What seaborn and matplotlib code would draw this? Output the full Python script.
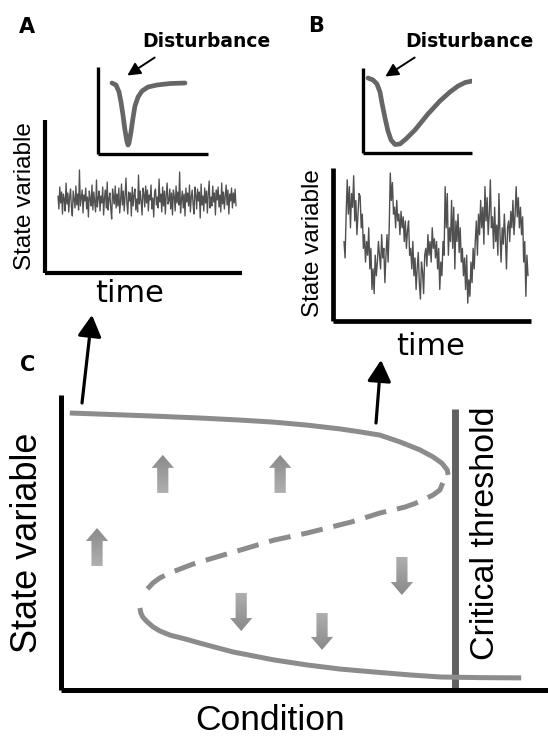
import numpy as np
import pandas as pd
import matplotlib
matplotlib.use("Agg")
import matplotlib.pyplot as plt
import seaborn as sns
from matplotlib.patches import FancyArrow, FancyArrowPatch

# ---------------- data ----------------
# Panel A: fast-recovering system, white-ish noise around the equilibrium (deviation units)
A_noise = [
    4, -9, 13, -3, 8, -14, 6, 1, -11, 17, -4, 7, -12, 3, 11, -7, -16, 9, 0, -8,
    14, -5, 6, -10, 30, -6, 2, 10, -13, 5, -1, 12, -9, 3, -17, 9, 1, -6, 15, -10,
    8, -2, -12, 20, -7, 2, 9, -11, 4, -3, 13, -15, 2, 10, -8, 18, -10, 1, 7, -9,
    -19, 11, 3, -4, 14, -8, 6, -6, 12, -13, 0, 16, -5, 9, -11, 4, 22, -3, -14, 8,
    -1, 7, -16, 13, -6, 5, 11, -10, 1, -12, 25, -4, 9, -2, -15, 12, 6, -7, 14, -3,
    10, -11, 5, 0, 15, -9, 2, -17, 8, 11, -5, 3, -8, 21, -2, 6, -12, 13, -6, 9,
    -14, 5, 17, -4, -1, 11, -9, 7, -15, 10, 4, -11, 14, -3, 8, -5, 28, -13, 0, 9,
    -8, 6, -16, 12, -2, 7, -6, 15, -12, 3, 10, -4, -14, 13, 5, -9, 11, -1, 8, -18,
    16, -5, 4, -11, 12, -3, 9, -13, 6, 19, -8, 3, -6, 14, -2, 7, -15, 10, 0, 13,
    -7, 5, -12, 17, -4, 8, -9, 4, 15, -5, 10, -14, 6, -1, 12, -8, 7, -3, 11, -6,
]

# Panel B: slowly recovering system, red noise (state 0..10)
B_noise = [
    5.0, 3.8, 7.0, 9.5, 7.0, 9.0, 6.0, 8.5, 7.5, 9.8, 6.5, 8.0, 5.5, 7.0, 8.5, 8.3,
    6.0, 7.0, 4.5, 5.5, 3.5, 5.0, 4.0, 6.0, 3.0, 4.5,
    1.5, 3.0, 1.2, 4.0, 2.5,
    3.5, 5.0, 4.0, 3.0, 5.5, 3.8, 4.5, 2.0, 4.0, 5.5, 3.5, 6.0,
    10.0, 8.0, 9.3, 7.0,
    7.5, 6.0, 8.0, 6.5, 7.0, 5.5, 7.2, 6.0, 6.8, 5.0, 6.5, 4.5, 5.8, 6.5, 4.0,
    4.5, 3.0, 5.0, 2.5, 3.8, 1.5, 3.0, 4.2, 2.0, 0.8, 3.5, 2.8, 1.2, 4.0,
    4.5, 3.2, 5.5, 4.0, 5.0, 3.5, 6.0, 4.5, 5.2, 3.8,
    5.0, 3.0, 4.5, 1.5, 3.5, 2.5, 5.0, 4.0,
    9.0, 6.0, 8.5, 4.0,
    6.0, 5.0, 8.0, 4.5, 7.5, 3.0, 6.5, 5.0, 7.0, 4.2, 6.0, 3.5,
    4.5, 2.5, 3.8, 1.5, 4.0, 0.5, 2.2, 1.0, 3.5, 2.0, 4.5, 3.0,
    5.0, 6.5, 4.0, 7.0, 5.5, 8.0, 6.0, 7.5, 4.8, 9.0, 6.5, 8.2, 5.5, 7.0, 9.5, 6.0,
    6.8, 4.5, 7.5, 5.0, 6.2, 4.0, 8.5, 5.5, 3.5, 6.0, 4.8, 7.0, 5.2, 3.0, 6.0,
    6.5, 5.0, 7.2, 6.0, 8.0, 5.5, 7.0, 9.0, 6.8, 8.2, 6.0, 7.5,
    5.5, 6.8, 3.5, 5.0, 1.0, 4.0, 2.5,
]

# Inset disturbance responses (time 0..10, state 0..10)
A_dist_t = [1.27, 1.64, 1.91, 2.09, 2.27, 2.45, 2.64, 2.73, 2.82, 3.00, 3.18, 3.36, 3.64, 4.00, 4.55, 5.36, 6.55, 7.91]
A_dist_y = [8.16, 7.93, 7.13, 5.98, 4.48, 2.76, 1.38, 1.03, 1.26, 2.53, 4.14, 5.52, 6.55, 7.24, 7.70, 7.93, 8.10, 8.16]
B_dist_t = [0.46, 0.92, 1.28, 1.56, 1.74, 2.02, 2.29, 2.57, 2.94, 3.39, 3.94, 4.77, 5.96, 7.06, 7.98, 8.72, 9.36, 10.0]
B_dist_y = [8.82, 8.59, 8.12, 7.18, 5.88, 4.12, 2.59, 1.53, 1.00, 1.06, 1.65, 2.71, 4.59, 6.12, 7.18, 7.88, 8.29, 8.47]

# Panel C: fold bifurcation (condition 0..10, state 0..10)
upper_cond = [0.18, 1.01, 1.83, 2.85, 3.68, 4.37, 5.05, 5.73, 6.14, 6.55, 6.96, 7.37, 7.64, 7.82, 7.93, 7.95]
upper_state = [9.39, 9.34, 9.29, 9.22, 9.15, 9.08, 8.98, 8.85, 8.75, 8.64, 8.41, 8.14, 7.90, 7.69, 7.46, 7.29]
middle_cond = [7.84, 7.78, 7.64, 7.43, 7.25, 7.06, 6.55, 5.95, 5.05, 4.37, 3.82, 3.26, 2.71, 2.24, 2.03, 1.89, 1.77, 1.66]
middle_state = [7.02, 6.78, 6.61, 6.44, 6.31, 6.20, 6.00, 5.69, 5.32, 5.08, 4.81, 4.54, 4.27, 3.97, 3.80, 3.63, 3.42, 3.22]
lower_cond = [1.62, 1.64, 1.68, 1.77, 1.89, 2.03, 2.24, 2.55, 2.85, 3.53, 4.37, 5.05, 5.73, 6.43, 7.17, 7.80, 8.60, 9.45]
lower_state = [2.78, 2.61, 2.47, 2.31, 2.14, 2.00, 1.86, 1.73, 1.59, 1.29, 1.02, 0.85, 0.71, 0.61, 0.51, 0.44, 0.42, 0.41]
threshold_cond = 8.09
threshold_top = 9.53

up_arrow_cond = [2.09, 4.50, 0.74]
up_arrow_from = [6.68, 6.68, 4.20]
up_arrow_to = [7.97, 7.97, 5.49]
down_arrow_cond = [3.70, 5.36, 7.00]
down_arrow_from = [3.29, 2.61, 4.51]
down_arrow_to = [2.00, 1.36, 3.22]

# ---------------- figure ----------------
sns.set_style("white")
plt.rcParams['font.family'] = ['Liberation Sans', 'DejaVu Sans']
plt.rcParams['text.color'] = 'black'

W, H = 548, 736
fig = plt.figure(figsize=(W / 100, H / 100), dpi=100)
fig.patch.set_facecolor("white")


def px_axes(l, t, r, b):
    ax = fig.add_axes([l / W, 1 - b / H, (r - l) / W, (b - t) / H])
    ax.patch.set_alpha(0)
    return ax


def style(ax, lw):
    for s in ["top", "right"]:
        ax.spines[s].set_visible(False)
    for s in ["left", "bottom"]:
        ax.spines[s].set_linewidth(lw)
        ax.spines[s].set_color("black")
        ax.spines[s].set_capstyle("butt")
    ax.set_xticks([])
    ax.set_yticks([])
    ax.set_xlabel("")
    ax.set_ylabel("")


def fit_lim(d0, d1, p0, p1, a0, a1):
    # data d0..d1 should land on pixels p0..p1 of an axis spanning pixels a0..a1
    s = (d1 - d0) / (p1 - p0)
    return d0 - (p0 - a0) * s, d1 + (a1 - p1) * s


# background canvas in pixel units for labels and connecting arrows
bg = fig.add_axes([0, 0, 1, 1])
bg.set_xlim(0, W)
bg.set_ylim(H, 0)
bg.axis("off")

# ---- Panel A main ----
axA = px_axes(45, 120, 242, 272.5)
tA = np.arange(len(A_noise))
sns.lineplot(x=tA, y=A_noise, ax=axA, color="#505050", linewidth=0.95,
             estimator=None, sort=False)
axA.set_xlim(*fit_lim(0, len(A_noise) - 1, 58, 236, 45, 242))
axA.set_ylim(-72.5, 80)
style(axA, 3.0)

# ---- Panel A inset ----
axAi = px_axes(98, 67, 208, 154)
sns.lineplot(x=A_dist_t, y=A_dist_y, ax=axAi, color="#666666", linewidth=3.4,
             estimator=None, sort=False, solid_capstyle="round", solid_joinstyle="round")
axAi.set_xlim(0, 10)
axAi.set_ylim(0, 10)
style(axAi, 2.4)

# ---- Panel B main ----
axB = px_axes(333, 168, 531, 320.5)
tB = np.arange(len(B_noise))
sns.lineplot(x=tB, y=B_noise, ax=axB, color="#505050", linewidth=1.0,
             estimator=None, sort=False)
axB.set_xlim(*fit_lim(0, len(B_noise) - 1, 344, 528, 333, 531))
axB.set_ylim(*fit_lim(0, 10, 310, 173, 320.5, 168))
style(axB, 3.4)

# ---- Panel B inset ----
axBi = px_axes(363, 68, 472, 153)
sns.lineplot(x=B_dist_t, y=B_dist_y, ax=axBi, color="#666666", linewidth=3.4,
             estimator=None, sort=False, solid_capstyle="round", solid_joinstyle="round")
axBi.set_xlim(0, 10)
axBi.set_ylim(0, 10)
style(axBi, 2.4)

# ---- Panel C ----
axC = px_axes(61, 395, 548, 690)
curve_col = "#8c8c8c"
sns.lineplot(x=upper_cond, y=upper_state, ax=axC, color=curve_col, linewidth=3.6,
             estimator=None, sort=False, solid_capstyle="butt", solid_joinstyle="round")
sns.lineplot(x=middle_cond, y=middle_state, ax=axC, color=curve_col, linewidth=3.6,
             estimator=None, sort=False, linestyle=(0, (4.4, 2.2)),
             dash_capstyle="butt", dash_joinstyle="round")
sns.lineplot(x=lower_cond, y=lower_state, ax=axC, color=curve_col, linewidth=3.6,
             estimator=None, sort=False, solid_capstyle="butt", solid_joinstyle="round")
axC.vlines(threshold_cond, 0, threshold_top, color="#616161", linewidth=5.0, zorder=1)

# block arrows with a light (tail) to darker (head) gradient
grad = np.linspace(1, 0, 64).reshape(-1, 1)
for xs, y0s, y1s in [(up_arrow_cond, up_arrow_from, up_arrow_to),
                     (down_arrow_cond, down_arrow_from, down_arrow_to)]:
    for x, y0, y1 in zip(xs, y0s, y1s):
        arr = FancyArrow(x, y0, 0, y1 - y0, width=0.23, head_width=0.46,
                         head_length=0.44, length_includes_head=True,
                         facecolor="none", edgecolor="none", lw=0)
        axC.add_patch(arr)
        img = axC.imshow(grad, cmap="gray", vmin=-3.6, vmax=3.1, aspect="auto",
                         extent=[x - 0.25, x + 0.25, y0, y1], origin="lower",
                         interpolation="bilinear", zorder=3)
        img.set_clip_path(arr)
axC.set_xlim(0, 10)
axC.set_ylim(0, 10)
style(axC, 3.6)

# ---------------- texts ----------------
dv = ["DejaVu Sans"]
bg.text(27, 27, "A", fontsize=15, fontweight="bold", ha="center", va="center", family=dv)
bg.text(316, 26, "B", fontsize=15, fontweight="bold", ha="center", va="center", family=dv)
bg.text(28, 365, "C", fontsize=15, fontweight="bold", ha="center", va="center", family=dv)

bg.text(206, 47, "Disturbance", fontsize=13.5, fontweight="bold", ha="center",
        va="baseline", family=dv)
bg.text(469, 47, "Disturbance", fontsize=13.5, fontweight="bold", ha="center",
        va="baseline", family=dv)

bg.text(25, 196, "State variable", fontsize=17.5, rotation=90, ha="center", va="center")
bg.text(313, 243, "State variable", fontsize=17.5, rotation=90, ha="center", va="center")
bg.text(130, 302, "time", fontsize=22, ha="center", va="baseline", family=dv)
bg.text(431, 355, "time", fontsize=22, ha="center", va="baseline", family=dv)

bg.text(28, 543, "State variable", fontsize=26, rotation=90, ha="center", va="center")
bg.text(270, 730, "Condition", fontsize=25.5, ha="center", va="baseline")
bg.text(486, 533, "Critical threshold", fontsize=24.5, rotation=90, ha="center", va="center")

# ---------------- arrows ----------------
for (x0, y0), (x1, y1) in [((157, 56), (125, 77)), ((417, 56), (383, 78))]:
    bg.add_patch(FancyArrowPatch((x0, y0), (x1, y1),
                                 arrowstyle="-|>,head_length=0.55,head_width=0.28",
                                 mutation_scale=14, lw=1.4, color="black"))
for (x0, y0), (x1, y1) in [((82, 403), (92, 315)), ((376, 423), (381, 360))]:
    bg.add_patch(FancyArrowPatch((x0, y0), (x1, y1),
                                 arrowstyle="-|>,head_length=0.65,head_width=0.36",
                                 mutation_scale=20, lw=2.3, color="black",
                                 shrinkA=0, shrinkB=0))

fig.savefig("out.png", dpi=100)
